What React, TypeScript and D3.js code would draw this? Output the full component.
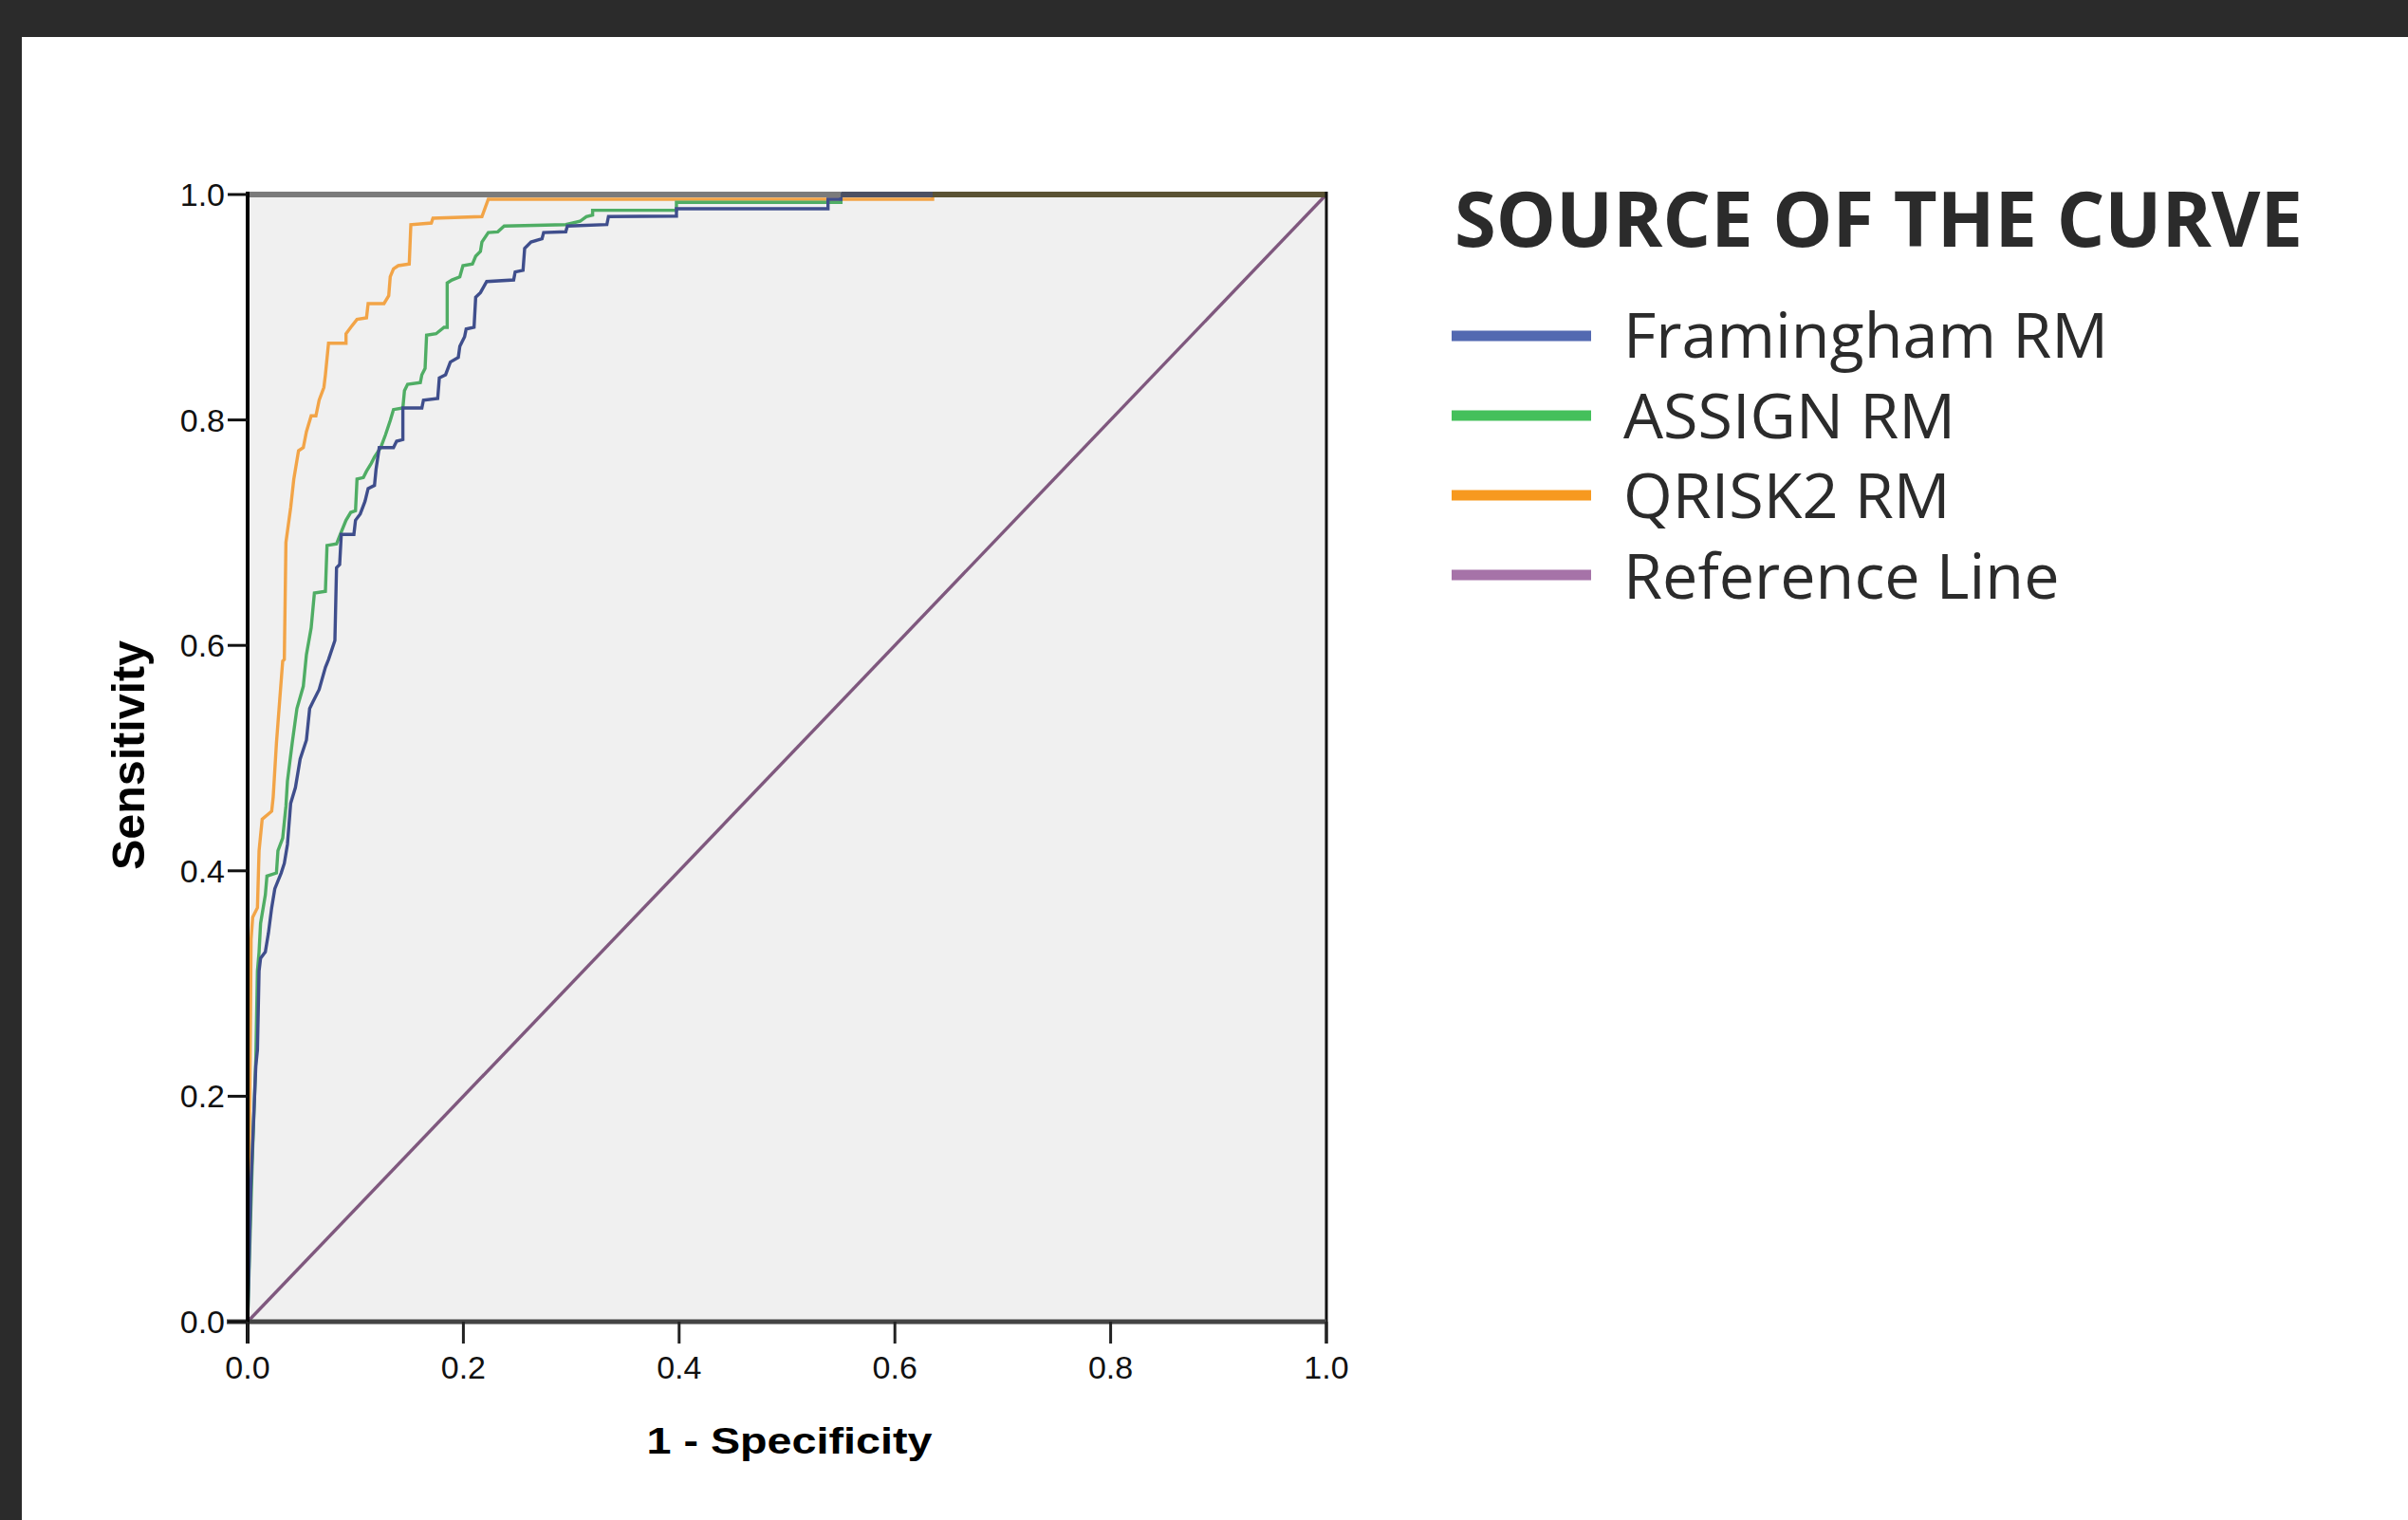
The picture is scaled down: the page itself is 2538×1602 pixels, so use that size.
import React from 'react';
import * as d3 from 'd3';

const xTicks = [0, 0.2, 0.4, 0.6, 0.8, 1.0];
const yTicks = [0, 0.2, 0.4, 0.6, 0.8, 1.0];

const seriesNames = ['Framingham RM', 'ASSIGN RM', 'QRISK2 RM', 'Reference Line'];
const legendColors = ['#5369b1', '#44c05b', '#f7991f', '#a673a8'];
const lineColors = ['#3f4e8c', '#4fad64', '#f2a447', '#7f587e'];

const framingham: [number, number][] = [
  [0, 0], [0.003, 0.12], [0.0076, 0.227], [0.0091, 0.241], [0.0106, 0.3112], [0.012, 0.3224],
  [0.0164, 0.328], [0.0193, 0.3448], [0.0223, 0.3673], [0.0252, 0.3841], [0.0311, 0.3981],
  [0.034, 0.4066], [0.0369, 0.4234], [0.0399, 0.4599], [0.0443, 0.4739], [0.0487, 0.4992],
  [0.0545, 0.516], [0.0575, 0.544], [0.0604, 0.5497], [0.0663, 0.5609], [0.0721, 0.5805],
  [0.075, 0.5875], [0.0809, 0.6044], [0.0824, 0.6689], [0.0853, 0.6717], [0.0868, 0.6984],
  [0.0985, 0.6984], [0.1, 0.711], [0.1044, 0.7166], [0.1088, 0.7278], [0.1117, 0.7391],
  [0.1176, 0.7419], [0.119, 0.7559], [0.122, 0.7755], [0.1352, 0.7755], [0.1381, 0.7811],
  [0.1439, 0.7826], [0.1439, 0.8106], [0.1615, 0.8106], [0.163, 0.8176], [0.1762, 0.819],
  [0.1777, 0.8373], [0.1835, 0.8401], [0.1879, 0.8513], [0.1953, 0.8555], [0.1967, 0.8653],
  [0.2011, 0.8737], [0.2026, 0.8807], [0.2099, 0.8822], [0.2114, 0.9088], [0.2158, 0.913],
  [0.2216, 0.9228], [0.2466, 0.9242], [0.248, 0.9313], [0.2553, 0.9327], [0.2568, 0.9523],
  [0.2627, 0.9579], [0.2729, 0.9607], [0.2744, 0.9663], [0.2949, 0.9669], [0.2964, 0.972],
  [0.333, 0.9733], [0.3345, 0.9804], [0.3975, 0.9809], [0.3975, 0.9874], [0.538, 0.9874],
  [0.538, 0.9958], [0.55, 0.9958], [0.55, 1], [1, 1],
];

const assign: [number, number][] = [
  [0, 0], [0.003, 0.1], [0.0047, 0.154], [0.0076, 0.2326], [0.0091, 0.3112], [0.0106, 0.328],
  [0.012, 0.3533], [0.0164, 0.3785], [0.0179, 0.3953], [0.0267, 0.3981], [0.0281, 0.4178],
  [0.0325, 0.429], [0.0355, 0.4571], [0.0369, 0.4795], [0.0413, 0.5132], [0.0457, 0.544],
  [0.0516, 0.5637], [0.0545, 0.5918], [0.0589, 0.6156], [0.0619, 0.6465], [0.0721, 0.6479],
  [0.0736, 0.6886], [0.0824, 0.69], [0.0853, 0.697], [0.0912, 0.711], [0.0956, 0.718],
  [0.1, 0.7194], [0.1014, 0.7475], [0.1073, 0.7489], [0.1102, 0.7545], [0.1146, 0.7615],
  [0.1176, 0.7671], [0.1234, 0.7755], [0.1278, 0.7868], [0.1322, 0.7994], [0.1352, 0.8092],
  [0.1439, 0.8106], [0.1454, 0.826], [0.1483, 0.8316], [0.1601, 0.8331], [0.1615, 0.8401],
  [0.1645, 0.8457], [0.1659, 0.8752], [0.1747, 0.8765], [0.1821, 0.8822], [0.185, 0.8822],
  [0.185, 0.9215], [0.1894, 0.9242], [0.1967, 0.927], [0.1996, 0.9369], [0.2084, 0.9383],
  [0.2114, 0.9453], [0.2158, 0.9495], [0.2172, 0.9579], [0.2231, 0.9663], [0.2319, 0.9669],
  [0.2378, 0.972], [0.2949, 0.9733], [0.3081, 0.9762], [0.314, 0.9804], [0.3198, 0.9818],
  [0.3198, 0.986], [0.3975, 0.986], [0.3975, 0.993], [0.55, 0.993], [0.55, 1], [1, 1],
];

const qrisk2: [number, number][] = [
  [0, 0], [0.002, 0.2], [0.0032, 0.3392], [0.0047, 0.3589], [0.0091, 0.3673], [0.0106, 0.4178],
  [0.0135, 0.4458], [0.0223, 0.4529], [0.0237, 0.4655], [0.0267, 0.5132], [0.0296, 0.5497],
  [0.0325, 0.5861], [0.034, 0.5875], [0.0355, 0.6913], [0.0399, 0.7222], [0.0428, 0.7475],
  [0.0472, 0.7727], [0.0516, 0.7755], [0.0545, 0.7896], [0.0589, 0.8036], [0.0633, 0.8036],
  [0.0663, 0.8176], [0.0707, 0.8289], [0.0721, 0.8401], [0.075, 0.8681], [0.0912, 0.8681],
  [0.0912, 0.8765], [0.0956, 0.8822], [0.1014, 0.8892], [0.1102, 0.8906], [0.1117, 0.9032],
  [0.1264, 0.9032], [0.1308, 0.9102], [0.1322, 0.927], [0.1352, 0.9341], [0.1396, 0.9369],
  [0.1498, 0.9383], [0.1513, 0.9733], [0.1703, 0.9747], [0.1718, 0.979], [0.2172, 0.9804],
  [0.2231, 0.9958], [0.635, 0.9958], [0.635, 1], [1, 1],
];

const reference: [number, number][] = [[0, 0], [1, 1]];

const seriesData = [framingham, assign, qrisk2, reference];

const W = 2538;
const H = 1602;
const PL = 261, PR = 1398, PT = 205, PB = 1393;

export default function App() {
  const x = d3.scaleLinear().domain([0, 1]).range([PL, PR]);
  const y = d3.scaleLinear().domain([0, 1]).range([PB, PT]);
  const line = d3.line<[number, number]>().x((d) => x(d[0])).y((d) => y(d[1]));

  const firstOne = (s: [number, number][]) => s.find((p) => p[1] >= 1)![0];
  const minOneX = Math.min(firstOne(framingham), firstOne(assign), firstOne(qrisk2));
  const maxOneX = Math.max(firstOne(framingham), firstOne(assign), firstOne(qrisk2));

  const drawOrder = [3, 2, 1, 0];
  const tickFont = '"Liberation Sans", Arial, sans-serif';

  return (
    <svg width={W} height={H} style={{ position: 'absolute', left: 0, top: 0, background: '#ffffff' }}>
      <rect x={0} y={0} width={W} height={39} fill="#2b2b2b" />
      <rect x={0} y={0} width={23} height={H} fill="#2b2b2b" />

      <rect x={PL} y={PT} width={PR - PL} height={PB - PT} fill="#f0f0f0" />

      {drawOrder.map((i) => (
        <path key={i} d={line(seriesData[i]) || ''} fill="none" stroke={lineColors[i]}
          strokeWidth={i === 3 ? 3.4 : 3.4} strokeLinejoin="miter" />
      ))}

      {/* frame */}
      <line x1={x(0)} x2={x(minOneX)} y1={y(1)} y2={y(1)} stroke="#7b7b7b" strokeWidth={6} />
      <line x1={x(minOneX)} x2={x(maxOneX)} y1={y(1)} y2={y(1)} stroke="#4c5062" strokeWidth={6} />
      <line x1={x(maxOneX)} x2={x(1)} y1={y(1)} y2={y(1)} stroke="#5a5233" strokeWidth={6} />
      <line x1={PR} x2={PR} y1={PT - 3} y2={PB + 23} stroke="#111" strokeWidth={3} />
      <line x1={PL - 22} x2={PR} y1={PB} y2={PB} stroke="#444" strokeWidth={5} />
      <line x1={PL} x2={PL} y1={PT - 3} y2={PB + 23} stroke="#000" strokeWidth={4} />

      {yTicks.map((t) => (
        <g key={'y' + t}>
          <line x1={PL - 21} x2={PL} y1={y(t)} y2={y(t)} stroke="#111" strokeWidth={3} />
          <text x={PL - 24} y={y(t) + 12} textAnchor="end" fontFamily={tickFont} fontSize={34} fill="#111">
            {t.toFixed(1)}
          </text>
        </g>
      ))}
      {xTicks.map((t) => (
        <g key={'x' + t}>
          <line x1={x(t)} x2={x(t)} y1={PB} y2={PB + 23} stroke="#222" strokeWidth={3} />
          <text x={x(t)} y={1453} textAnchor="middle" fontFamily={tickFont} fontSize={34} fill="#111">
            {t.toFixed(1)}
          </text>
        </g>
      ))}

      <text x={832} y={1532} textAnchor="middle" fontFamily={tickFont} fontWeight="bold" fontSize={39}
        textLength={301} lengthAdjust="spacingAndGlyphs" fill="#000">
        1 - Specificity
      </text>
      <text transform="translate(152,796) rotate(-90)" textAnchor="middle" fontFamily={tickFont}
        fontWeight="bold" fontSize={48} textLength={242} lengthAdjust="spacingAndGlyphs" fill="#000">
        Sensitivity
      </text>

      <text x={1533} y={260} fontFamily='"Open Sans", sans-serif' fontWeight="bold" fontSize={80}
        textLength={894} lengthAdjust="spacingAndGlyphs" fill="#2b2b2b">
        SOURCE OF THE CURVE
      </text>
      {seriesNames.map((name, i) => (
        <g key={name}>
          <line x1={1530} x2={1677} y1={354 + i * 84} y2={354 + i * 84} stroke={legendColors[i]} strokeWidth={11} />
          <text x={1711} y={377 + i * 84.5} fontFamily='"Open Sans", sans-serif' fontSize={66.5} fill="#2b2b2b">
            {name}
          </text>
        </g>
      ))}
    </svg>
  );
}
